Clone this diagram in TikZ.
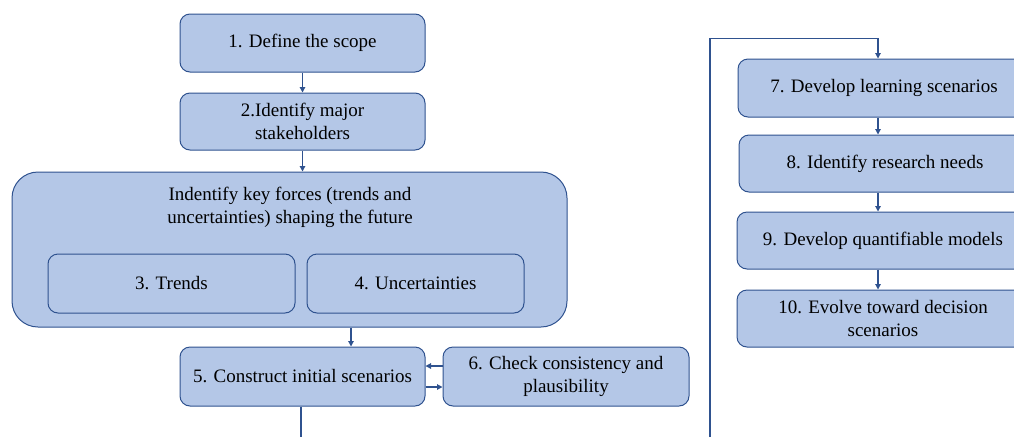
\documentclass[tikz,border=0pt]{standalone}
\usepackage{fontspec}
\setmainfont{Liberation Serif}
\usetikzlibrary{arrows.meta}
\definecolor{boxfill}{HTML}{B4C7E7}
\definecolor{boxline}{HTML}{2F528F}
\tikzset{
    stepbox/.style={draw=boxline, fill=boxfill, line width=1pt, rounded corners=10pt,
        align=center, inner sep=0pt, font=\fontsize{19}{23}\selectfont},
    flow/.style={draw=boxline, line width=1.2pt, -{Triangle[length=5.5pt,width=5.5pt]}}
}
\begin{document}
\begin{tikzpicture}[x=1pt,y=-1pt]
    \clip (0,0) rectangle (1014,437);
    % Columna izquierda
    \node[stepbox, minimum width=245pt, minimum height=58pt] (define) at (302.5,43) {1. Define the scope};
    \node[stepbox, minimum width=245pt, minimum height=57pt] (stake) at (302.5,121.5) {2.Identify major\\stakeholders};
    % Fuerzas clave
    \node[stepbox, rounded corners=26pt, minimum width=555pt, minimum height=155pt] (forces) at (289.5,249.5) {};
    \node[align=center, font=\fontsize{19}{23}\selectfont] (forcestitle) at (290,207.5) {Indentify key forces (trends and\\uncertainties) shaping the future};
    \node[stepbox, minimum width=247pt, minimum height=59pt] (trends) at (171.5,283.5) {3. Trends};
    \node[stepbox, minimum width=217pt, minimum height=59pt] (uncert) at (415.5,283.5) {4. Uncertainties};
    % Escenarios iniciales
    \node[stepbox, minimum width=245pt, minimum height=59pt] (construct) at (302.5,376.5) {5. Construct initial scenarios};
    \node[stepbox, minimum width=246pt, minimum height=59pt] (check) at (566,376.5) {6. Check consistency and\\plausibility};
    % Columna derecha (cortada en el borde)
    \node[stepbox, minimum width=292pt, minimum height=58pt] (learning) at (884,88) {7. Develop learning scenarios};
    \node[stepbox, minimum width=292pt, minimum height=57pt] (research) at (885,163.5) {8. Identify research needs};
    \node[stepbox, minimum width=292pt, minimum height=57pt] (models) at (883,240.5) {9. Develop quantifiable models};
    \node[stepbox, minimum width=292pt, minimum height=57pt] (decision) at (883,318.5) {10. Evolve toward decision\\scenarios};
    \coordinate (down5) at (301,437);
    \coordinate (up7) at (710,437);
    % Flechas
    \draw[flow] (define) -- (stake);
    \draw[flow] (stake.south) -- (stake.south |- forces.north);
    \draw[flow] ([xshift=48.5pt]construct.north |- forces.south) -- ([xshift=48.5pt]construct.north);
    \draw[flow] ([yshift=10.5pt]check.west) -- ([yshift=10.5pt]construct.east);
    \draw[flow] ([yshift=-10.5pt]construct.east) -- ([yshift=-10.5pt]check.west);
    \draw[flow, -] (construct.south -| down5) -- (down5);
    \draw[flow] (up7) |- ([yshift=20pt]learning.north -| 878,0) -- (learning.north -| 878,0);
    \draw[flow] (learning.south -| 878,0) -- (research.north -| 878,0);
    \draw[flow] (research.south -| 878,0) -- (models.north -| 878,0);
    \draw[flow] (models.south -| 878,0) -- (decision.north -| 878,0);
\end{tikzpicture}
\end{document}
